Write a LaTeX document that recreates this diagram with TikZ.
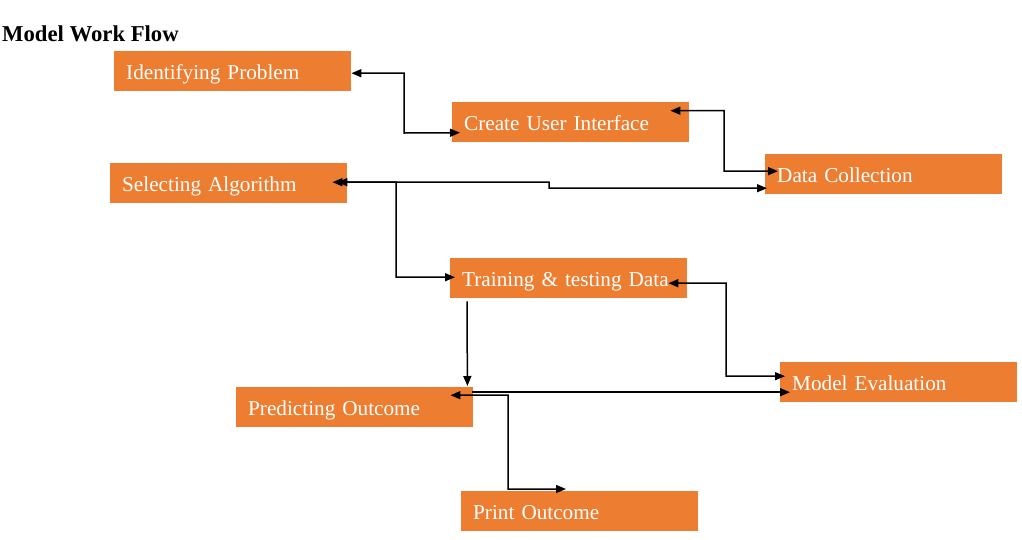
\documentclass[tikz,border=0pt]{standalone}
\usepackage{fontspec}
\setmainfont{Liberation Serif}
\usetikzlibrary{arrows.meta,calc}
\definecolor{boxorange}{HTML}{ED7D31}
\tikzset{
  flowbox/.style={rectangle, fill=boxorange, draw=none, text=white,
    minimum width=237pt, minimum height=40pt, text width=213pt,
    inner xsep=12pt, inner ysep=0pt, align=left,
    font=\fontsize{21.2}{23}\selectfont, text height=1.6em, text depth=0pt,
    anchor=north west},
  conn/.style={line width=1.5pt, draw=black},
  tip/.style={-{Triangle[length=10pt,width=8pt]}},
  bitip/.style={{Triangle[length=10pt,width=8pt]}-{Triangle[length=10pt,width=8pt]}},
}
\begin{document}
\begin{tikzpicture}[x=1pt,y=-1pt]
\useasboundingbox (0,0) rectangle (1022,539);
\fill[white] (0,0) rectangle (1022,539);

\node[anchor=base west, inner sep=0pt, font=\fontsize{22.7}{24}\selectfont\bfseries] (title) at (2,41.5) {Model Work Flow};

\node[flowbox] (ip) at (114,51) {Identifying Problem};
\node[flowbox] (cui) at (452,102) {Create User Interface};
\node[flowbox] (dc) at (765,154) {Data Collection};
\node[flowbox] (sa) at (110,163) {Selecting Algorithm};
\node[flowbox] (tr) at (450,258) {Training \& testing Data};
\node[flowbox] (me) at (780,362) {Model Evaluation};
\node[flowbox] (po) at (236,387) {Predicting Outcome};
\node[flowbox] (pr) at (461,491) {Print Outcome};

% Identifying Problem <-> Create UI
\draw[conn,bitip] ([yshift=-2pt]ip.east) -| (404,133) -- ([xshift=8pt,yshift=-10.5pt]cui.west);
% Create UI <-> Data Collection
\draw[conn,bitip] ([xshift=-19pt,yshift=11.5pt]cui.east) -| (724,171) -- ([xshift=13pt,yshift=3pt]dc.west);
% Selecting Algorithm <-> Data Collection
\draw[conn,bitip] ([xshift=-15pt,yshift=1pt]sa.east) -- (549,182) -- (549,188) -- ([xshift=2pt,yshift=-14pt]dc.west);
% Selecting Algorithm <-> Training
\draw[conn,bitip] ([xshift=-10pt,yshift=1pt]sa.east) -- (396,182) |- ([xshift=5pt,yshift=1pt]tr.west);
% Training <-> Model Evaluation
\draw[conn,bitip] ([xshift=-19pt,yshift=-5pt]tr.east) -| (726,376) -- ([xshift=5pt,yshift=6pt]me.west);
% Training -> Predicting
\draw[conn,tip] ([xshift=17pt,yshift=-3pt]tr.south west) -- ([xshift=-6pt,yshift=1pt]po.north east);
% Predicting -> Model Evaluation
\draw[conn,tip] ([xshift=-1pt,yshift=15pt]po.east) -- ([xshift=10pt,yshift=-10pt]me.west);
% Predicting <-> Print
\draw[conn,bitip] ([xshift=-23pt,yshift=12pt]po.east) -- (508,395) |- ([xshift=105pt,yshift=2pt]pr.north west);
\end{tikzpicture}
\end{document}
